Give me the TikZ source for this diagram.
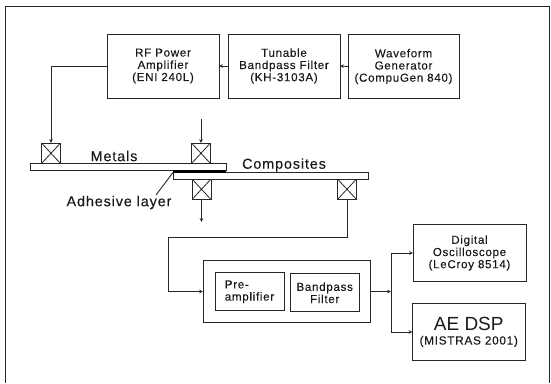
\documentclass[tikz,border=0pt]{standalone}
\usepackage{fontspec}
\setmainfont[LetterSpace=6,FakeBold=0.2]{Liberation Sans}
\newfontfamily\bigfont{Liberation Sans}
\usetikzlibrary{arrows.meta}
\tikzset{
  x=1pt,y=-1pt,
  ln/.style={line width=0.9pt,black!85},
  arr/.style={ln,-{Stealth[length=3.8pt,width=3.6pt]}},
  box/.style={draw=black!85,line width=0.9pt,inner sep=0pt,outer sep=0pt,align=center,
    font=\fontsize{11.6}{12.2}\selectfont,text=black!90},
  bar/.style={draw=black!85,line width=0.9pt,inner sep=0pt,outer sep=0pt,minimum height=6.5pt,fill=white},
  xbox/.style={draw=black!85,line width=0.9pt,inner sep=0pt,outer sep=0pt,minimum width=19pt,minimum height=20.5pt,
    path picture={\draw[line width=0.8pt,black!85] (path picture bounding box.north west)--(path picture bounding box.south east)
      (path picture bounding box.north east)--(path picture bounding box.south west);}},
  lab/.style={inner sep=0pt,font=\fontsize{14.4}{15}\selectfont,text=black!90},
}
\begin{document}
\begin{tikzpicture}
\useasboundingbox (0,0) rectangle (551,383);
\coordinate (fa) at (5.5,383);
\coordinate (fb) at (5.5,6);
\coordinate (fc) at (549,6);
\coordinate (fd) at (549,383);
\draw[ln] (fa) -- (fb) -- (fc) -- (fd);

\node[box,minimum width=112pt,minimum height=64pt] (rf) at (163,66) {RF Power\\Amplifier\\(ENI 240L)};
\node[box,minimum width=112pt,minimum height=64pt] (tun) at (284,66) {Tunable\\Bandpass Filter\\(KH-3103A)};
\node[box,minimum width=111pt,minimum height=64pt] (wav) at (403.5,66.5) {Waveform\\Generator\\(CompuGen 840)};

\node[bar,minimum width=196pt,anchor=north west] (metal) at (30,163.5) {};
\node[bar,minimum width=195pt,anchor=north west] (comp) at (173,172.5) {};
\node[fill=black,inner sep=0pt,outer sep=0pt,minimum width=53pt,minimum height=2.5pt,anchor=north west] (adh) at (173,170) {};

\node[xbox,anchor=south] (t1) at (51,163.5) {};
\node[xbox,anchor=south] (t2) at (201,163.5) {};
\node[xbox,anchor=north] (t3) at (201.5,179) {};
\node[xbox,anchor=north] (t4) at (347,179) {};

\node[lab] (lm) at (114,156) {Metals};
\node[lab] (lc) at (284,165) {Composites};
\node[lab] (la) at (119,202.5) {Adhesive layer};

\coordinate (tin) at (201,119);
\coordinate (tout) at (201.5,222);
\coordinate (lead) at (156,195);
\coordinate (c1) at (168.5,237);
\coordinate (j) at (391,291.5);

\draw[arr] (tun.west) -- (rf.east);
\draw[arr] (wav.west) -- (tun.east);
\draw[arr] (rf.west) -| (t1.north);
\draw[arr] (tin) -- (t2.north);
\draw[arr] (t3.south) -- (tout);
\draw[ln] (lead) -- (adh.south west);

\node[box,minimum width=167.5pt,minimum height=61.5pt] (amp) at (286.75,291.5) {};
\node[box,minimum width=69pt,minimum height=38pt,align=left] (pre) at (249.5,291.7) {Pre-\\amplifier};
\node[box,minimum width=69pt,minimum height=38pt] (bp) at (324.7,292.8) {Bandpass\\Filter};
\node[box,minimum width=113pt,minimum height=57.5pt] (dig) at (469.5,253) {Digital\\Oscilloscope\\(LeCroy 8514)};
\node[box,minimum width=112.5pt,minimum height=57.5pt] (dsp) at (468.75,332) {{\bigfont\fontsize{19}{19}\selectfont AE DSP}\\[2pt]{\fontsize{11.8}{12}\selectfont (MISTRAS 2001)}};

\draw[ln] (t4.south) |- (c1);
\draw[arr] (c1) |- (amp.west);
\draw[arr] (amp.east) -- (j);
\draw[arr] (j) |- (dig.west);
\draw[arr] (j) |- (dsp.west);
\end{tikzpicture}
\end{document}
